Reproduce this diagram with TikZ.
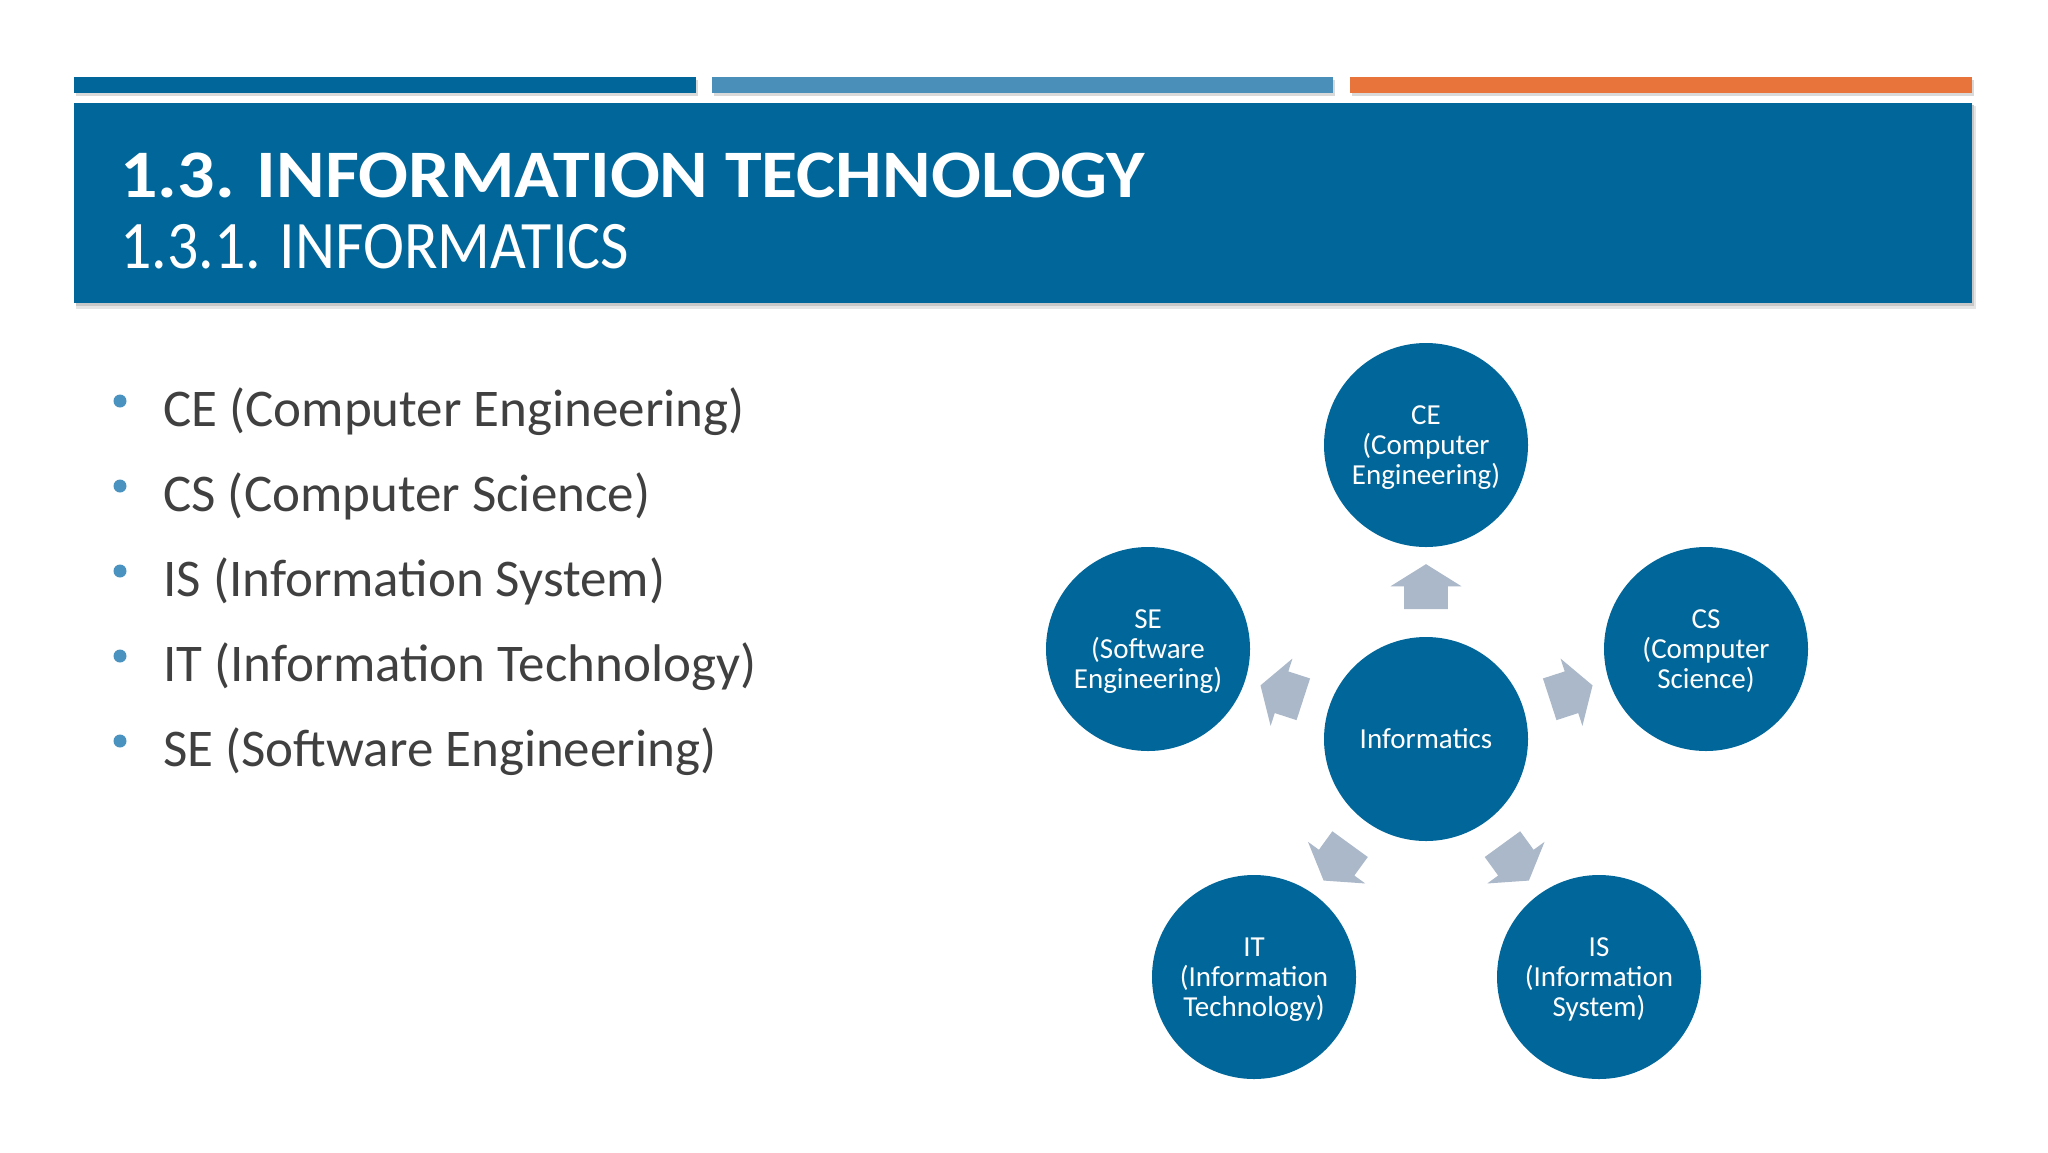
\documentclass[tikz,border=0pt]{standalone}
\usepackage{fontspec}
\setmainfont{Carlito}
\usetikzlibrary{shapes.arrows,calc}
\definecolor{hdrblue}{HTML}{01679A}
\definecolor{barmid}{HTML}{4A8FBA}
\definecolor{barorange}{HTML}{E8733B}
\definecolor{arrgray}{HTML}{AAB8C9}
\definecolor{txtgray}{HTML}{404040}
\definecolor{bulblue}{HTML}{4A93C0}
\tikzset{
  circ/.style={circle, fill=hdrblue, minimum size=102pt, inner sep=0pt, text=white, align=center, font=\fontsize{14.5}{15}\selectfont},
  circm/.style={circ, text depth=0pt},
  blockarr/.style={single arrow, fill=arrgray, draw=none, minimum height=22.5pt, minimum width=35pt, single arrow head extend=6.75pt, single arrow tip angle=116, inner xsep=0pt, inner ysep=0pt},
  bullettext/.style={anchor=base west, text=txtgray, font=\fontsize{26.5}{32}\selectfont, inner sep=0pt},
  bulletdot/.style={circle, fill=bulblue, minimum size=6.5pt, inner sep=0pt},
  titletext/.style={anchor=base west, text=white, inner sep=0pt}
}
\begin{document}
\begin{tikzpicture}[x=0.5pt,y=-0.5pt]
\useasboundingbox[fill=white] (0,0) rectangle (2048,1152);
% top bars
\fill[black!15] (76,80) rectangle (698,96);
\fill[black!15] (714,80) rectangle (1335,96);
\fill[black!15] (1352,80) rectangle (1974,96);
\fill[hdrblue] (74,77) rectangle (696,93);
\fill[barmid] (712,77) rectangle (1333,93);
\fill[barorange] (1350,77) rectangle (1972,93);
% header
\fill[black!10] (76,106) rectangle (1976,309);
\fill[black!22] (76,105) rectangle (1974,306);
\fill[hdrblue] (74,103) rectangle (1972,303);
\node[titletext, font=\fontsize{34}{40}\selectfont\bfseries] (t1) at (120,197) {\scalebox{1.086}[1]{1.3. INFORMATION TECHNOLOGY}};
\node[titletext, font=\fontsize{34}{40}\selectfont] (t2) at (120,268) {\scalebox{0.91}[1]{1.3.1. INFORMATICS}};
% bullets
\foreach \i/\t in {1/CE (Computer Engineering),2/CS (Computer Science),3/IS (Information System),4/IT (Information Technology),5/SE (Software Engineering)}{
  \node[bulletdot] (b\i) at (120,{426+85*(\i-1)-25}) {};
  \node[bullettext] (l\i) at (163,{426+85*(\i-1)}) {\t};
}
% diagram
\node[circ] (inf) at (1426,739) {Informatics};
\node[circm] (ce) at (1426,445) {CE\\(Computer\\Engineering)};
\node[circm] (cs) at (1706,649) {CS\\(Computer\\Science)};
\node[circm] (se) at (1148,649) {SE\\(Software\\Engineering)};
\node[circm] (is) at (1599,977) {IS\\(Information\\System)};
\node[circm] (it) at (1254,977) {IT\\(Information\\Technology)};
\node[blockarr, rotate=90] (a1) at ($(inf)!0.495!(ce)$) {\rule{0pt}{21.5pt}};
\node[blockarr, rotate=18] (a2) at ($(inf)!0.495!(cs)$) {\rule{0pt}{21.5pt}};
\node[blockarr, rotate=162] (a3) at ($(inf)!0.495!(se)$) {\rule{0pt}{21.5pt}};
\node[blockarr, rotate=-54] (a4) at ($(inf)!0.495!(is)$) {\rule{0pt}{21.5pt}};
\node[blockarr, rotate=-126] (a5) at ($(inf)!0.495!(it)$) {\rule{0pt}{21.5pt}};
\end{tikzpicture}
\end{document}
